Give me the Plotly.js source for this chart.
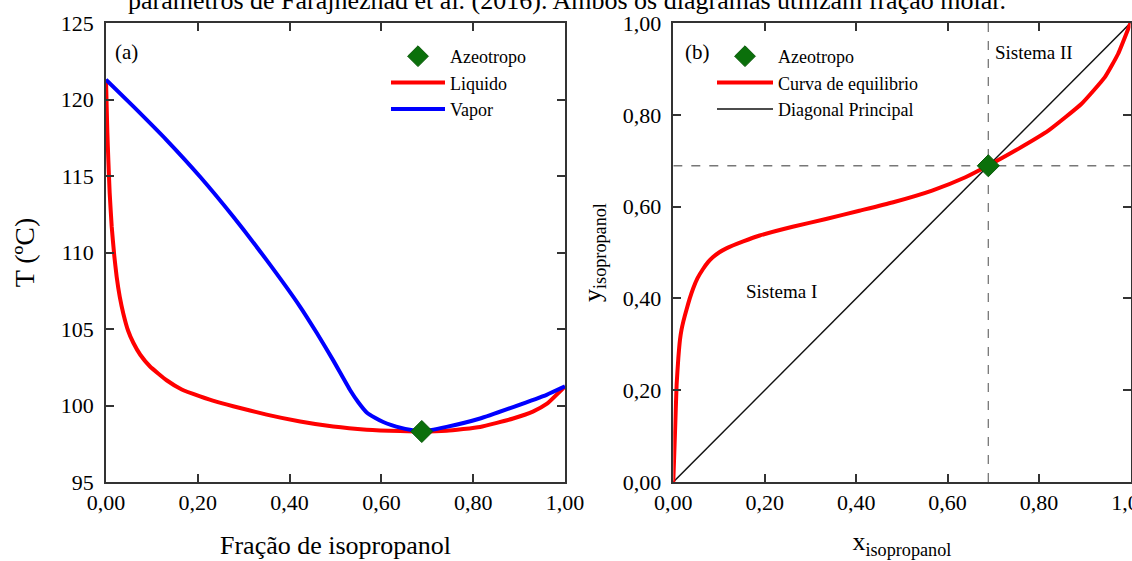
<!DOCTYPE html>
<html>
<head>
<meta charset="utf-8">
<script src="https://cdn.plot.ly/plotly-3.0.1.min.js"></script>
<style>html,body{margin:0;padding:0;background:#fff;}#chart{width:1132px;height:561px;}</style>
</head>
<body>
<div id="chart"></div>
<script>
// ---- Panel (a): T-x-y diagram ----
const liqX = [0, 0.0015, 0.003, 0.005, 0.008, 0.0124, 0.018, 0.0233, 0.03, 0.0378, 0.048, 0.0595, 0.075, 0.0959, 0.132, 0.165, 0.205, 0.24, 0.277, 0.35, 0.423, 0.495, 0.568, 0.641, 0.688, 0.742, 0.815, 0.887, 0.93, 0.96, 1.0];
const liqT = [121.3, 119.5, 117.8, 116.1, 113.9, 111.7, 109.8, 108.4, 107.1, 106.0, 104.9, 104.1, 103.3, 102.55, 101.65, 101.05, 100.6, 100.25, 99.95, 99.4, 98.95, 98.62, 98.42, 98.33, 98.3, 98.35, 98.6, 99.15, 99.6, 100.1, 101.25];
const vapX = [0, 0.0595, 0.132, 0.205, 0.277, 0.35, 0.423, 0.459, 0.495, 0.532, 0.55, 0.568, 0.586, 0.604, 0.622, 0.641, 0.665, 0.688, 0.742, 0.815, 0.887, 0.96, 1.0];
const vapT = [121.3, 119.55, 117.35, 114.95, 112.35, 109.5, 106.45, 104.75, 102.95, 101.0, 100.2, 99.55, 99.2, 98.92, 98.72, 98.55, 98.4, 98.3, 98.6, 99.15, 99.9, 100.7, 101.25];
const azeoX = [0.688];
const azeoT = [98.3];

// ---- Panel (b): x-y diagram ----
const eqX = [0, 0.0036, 0.0073, 0.011, 0.0146, 0.018, 0.022, 0.029, 0.036, 0.0436, 0.053, 0.065, 0.076, 0.087, 0.1, 0.116, 0.153, 0.189, 0.261, 0.334, 0.407, 0.479, 0.566, 0.639, 0.688, 0.748, 0.821, 0.893, 0.944, 0.973, 1.0];
const eqY = [0, 0.104, 0.213, 0.27, 0.31, 0.332, 0.35, 0.376, 0.4, 0.422, 0.444, 0.464, 0.479, 0.49, 0.5, 0.509, 0.524, 0.537, 0.556, 0.573, 0.591, 0.609, 0.635, 0.664, 0.689, 0.722, 0.766, 0.824, 0.882, 0.933, 1.0];
const diagX = [0, 1];
const diagY = [0, 1];
const azeoXb = [0.689];
const azeoYb = [0.689];

const legendA = ['Azeotropo', 'Liquido', 'Vapor'];
const legendB = ['Azeotropo', 'Curva de equilibrio', 'Diagonal Principal'];

const SERIF = '"Liberation Serif", "Times New Roman", serif';
const green = '#0b700b';
const frame = '#333333';

const traces = [
  {x: liqX, y: liqT, xaxis: 'x', yaxis: 'y', type: 'scatter', mode: 'lines', name: legendA[1],
   line: {color: '#ff0000', width: 4, shape: 'spline', smoothing: 0.4}, legend: 'legend', legendrank: 2},
  {x: vapX, y: vapT, xaxis: 'x', yaxis: 'y', type: 'scatter', mode: 'lines', name: legendA[2],
   line: {color: '#0000ff', width: 4, shape: 'spline', smoothing: 0.4}, legend: 'legend', legendrank: 3},
  {x: azeoX, y: azeoT, xaxis: 'x', yaxis: 'y', type: 'scatter', mode: 'markers', name: legendA[0],
   marker: {symbol: 'diamond', size: 17, color: green, line: {color: '#0a5a0a', width: 1}}, legend: 'legend', legendrank: 1},

  {x: diagX, y: diagY, xaxis: 'x2', yaxis: 'y2', type: 'scatter', mode: 'lines', name: legendB[2],
   line: {color: '#111111', width: 1.5}, legend: 'legend2', legendrank: 3},
  {x: eqX, y: eqY, xaxis: 'x2', yaxis: 'y2', type: 'scatter', mode: 'lines', name: legendB[1],
   line: {color: '#ff0000', width: 4, shape: 'spline', smoothing: 0.4}, legend: 'legend2', legendrank: 2},
  {x: azeoXb, y: azeoYb, xaxis: 'x2', yaxis: 'y2', type: 'scatter', mode: 'markers', name: legendB[0],
   marker: {symbol: 'diamond', size: 17, color: green, line: {color: '#0a5a0a', width: 1}}, legend: 'legend2', legendrank: 1}
];

// major-tick axes (with labels)
function axis(extra) {
  return Object.assign({
    showgrid: false, zeroline: false, showline: true, linecolor: frame, linewidth: 1.5,
    mirror: 'ticks', ticks: 'inside', ticklen: 8, tickwidth: 2, tickcolor: frame,
    tickfont: {family: SERIF, size: 22, color: '#000'}
  }, extra);
}
// overlay axes that carry only the minor ticks
function minorAxis(extra) {
  return Object.assign({
    showgrid: false, zeroline: false, showline: false, showticklabels: false,
    mirror: 'ticks', ticks: 'inside', ticklen: 4, tickwidth: 2, tickcolor: '#555555'
  }, extra);
}
const titleFont = {family: SERIF, size: 26, color: '#000'};

const layout = {
  width: 1132, height: 561,
  margin: {l: 0, r: 0, t: 23, b: 79},
  paper_bgcolor: '#ffffff', plot_bgcolor: '#ffffff',
  separators: ',.',
  font: {family: SERIF, color: '#000'},
  showlegend: true,
  xaxis: axis({
    domain: [106/1132, 565/1132], range: [0, 1], dtick: 0.2, tick0: 0, tickformat: '.2f',
    title: {text: 'Fração de isopropanol', font: titleFont, standoff: 22}
  }),
  yaxis: axis({
    domain: [0, 1], range: [95, 125], dtick: 5, tick0: 95,
    ticklabelstandoff: 6,
    title: {text: 'T (ºC)', font: {family: SERIF, size: 28, color: '#000'}, standoff: 18}
  }),
  xaxis2: axis({
    anchor: 'y2',
    domain: [673.3/1132, 1130.5/1132], range: [0, 1], dtick: 0.2, tick0: 0, tickformat: '.2f',
    ticklabeloverflow: 'allow',
    title: {text: 'x<sub>isopropanol</sub>', font: titleFont, standoff: 18}
  }),
  yaxis2: axis({
    anchor: 'x2',
    domain: [0, 1], range: [0, 1], dtick: 0.2, tick0: 0, tickformat: '.2f',
    ticklabelstandoff: 6,
    title: {text: 'y<sub>isopropanol</sub>', font: titleFont, standoff: 14}
  }),
  xaxis3: minorAxis({overlaying: 'x', anchor: 'y', side: 'bottom', range: [0, 1], dtick: 0.05, tick0: 0}),
  yaxis3: minorAxis({overlaying: 'y', anchor: 'x', side: 'left', range: [95, 125], dtick: 1, tick0: 95}),
  xaxis4: minorAxis({overlaying: 'x2', anchor: 'y2', side: 'bottom', range: [0, 1], dtick: 0.05, tick0: 0}),
  yaxis4: minorAxis({overlaying: 'y2', anchor: 'x2', side: 'left', range: [0, 1], dtick: 0.05, tick0: 0}),
  legend: {
    x: 386/1132, xanchor: 'left', y: 1 - (38-23)/459, yanchor: 'top',
    bgcolor: 'rgba(0,0,0,0)', borderwidth: 0,
    font: {family: SERIF, size: 18, color: '#000'}, itemwidth: 54, traceorder: 'normal'
  },
  legend2: {
    x: 712/1132, xanchor: 'left', y: 1 - (38-23)/459, yanchor: 'top',
    bgcolor: 'rgba(0,0,0,0)', borderwidth: 0,
    font: {family: SERIF, size: 18, color: '#000'}, itemwidth: 56, traceorder: 'normal'
  },
  shapes: [
    {type: 'line', xref: 'x2', yref: 'y2', x0: azeoXb[0], x1: azeoXb[0], y0: 0, y1: 1,
     line: {color: '#777777', width: 1.3, dash: 'dash'}, layer: 'below'},
    {type: 'line', xref: 'x2', yref: 'y2', x0: 0, x1: 1, y0: azeoYb[0], y1: azeoYb[0],
     line: {color: '#777777', width: 1.3, dash: 'dash'}, layer: 'below'}
  ],
  annotations: [
    {text: 'parâmetros de Farajnezhad et al. (2016). Ambos os diagramas utilizam fração molar.',
     xref: 'paper', yref: 'paper', x: 567/1132, xanchor: 'center', y: (482-17)/459, yanchor: 'bottom',
     showarrow: false, font: {family: SERIF, size: 26, color: '#000'}},
    {text: '(a)', xref: 'x domain', yref: 'y domain', x: 0.015, xanchor: 'left', y: 1 - (52-23)/459, yanchor: 'middle',
     showarrow: false, font: {family: SERIF, size: 21, color: '#000'}},
    {text: '(b)', xref: 'x2 domain', yref: 'y2 domain', x: 0.022, xanchor: 'left', y: 1 - (52-23)/459, yanchor: 'middle',
     showarrow: false, font: {family: SERIF, size: 21, color: '#000'}},
    {text: 'Sistema I', xref: 'x2', yref: 'y2', x: 0.236, y: 0.415, xanchor: 'center', yanchor: 'middle',
     showarrow: false, font: {family: SERIF, size: 19, color: '#000'}},
    {text: 'Sistema II', xref: 'x2', yref: 'y2', x: 0.79, y: 0.936, xanchor: 'center', yanchor: 'middle',
     showarrow: false, font: {family: SERIF, size: 19, color: '#000'}}
  ]
};

Plotly.newPlot('chart', traces, layout, {displayModeBar: false});
</script>
</body>
</html>
